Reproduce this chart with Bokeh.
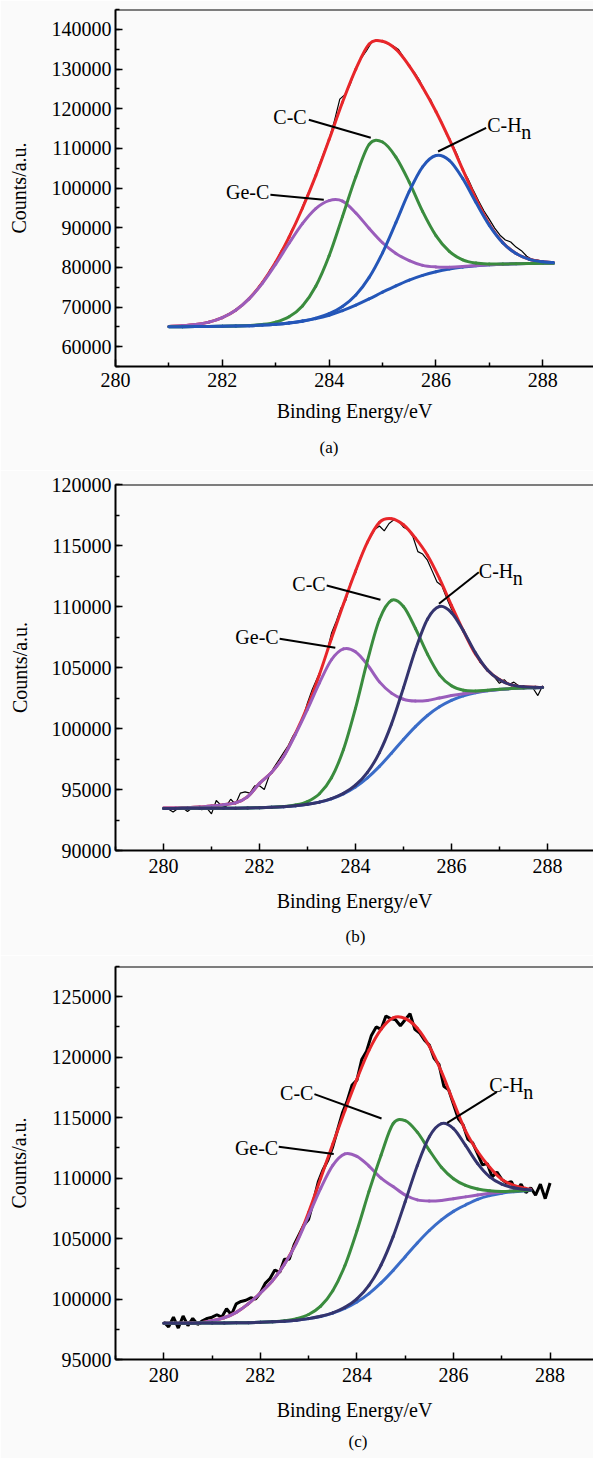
from bokeh.plotting import figure
from bokeh.layouts import column
from bokeh.models import FixedTicker, Span, Range1d, BasicTickFormatter, Title
from bokeh.core.properties import value
from bokeh.embed import file_html
from bokeh.resources import INLINE

FONT = "Liberation Serif"
RED = "#e8262a"; GREEN = "#3a8c3e"; BLUE_A = "#2456b8"; PURPLE = "#9a5dbb"
NAVY = "#34346e"; LBLUE = "#3a6cc8"; BG = "#fafafa"

# ---------------- panel (a) ----------------
a_E = [281.0, 281.25, 281.5, 281.75, 282.0, 282.25, 282.5, 282.75, 283.0, 283.25, 283.5, 283.75,
       284.0, 284.25, 284.5, 284.75, 285.0, 285.25, 285.5, 285.75, 286.0, 286.25, 286.5, 286.75,
       287.0, 287.25, 287.5, 287.75, 288.0, 288.2]
a_bg = [65024, 65037, 65055, 65084, 65127, 65192, 65290, 65436, 65650, 65966, 66426, 67061,
        67930, 69073, 70458, 72052, 73726, 75320, 76769, 77960, 78878, 79570, 80054, 80392,
        80633, 80778, 80891, 80955, 81003, 81036]
a_gec = [65111, 65257, 65566, 66184, 67312, 69192, 72047, 75973, 80802, 86063, 91020, 94817,
         96830, 96700, 93700, 89800, 86200, 83500, 81700, 80500, 80100, 80050, 80200, 80450,
         80650, 80800, 80900, 80958, 81004, 81036]
a_cc = [65024, 65037, 65055, 65084, 65128, 65202, 65333, 65601, 66195, 67526, 70271, 75233,
        82917, 92787, 102813, 111000, 111600, 107800, 101500, 94100, 88000, 84000, 81900, 81073,
        80844, 80835, 80904, 80958, 81004, 81036]
a_chn = [65024, 65037, 65055, 65084, 65127, 65192, 65290, 65436, 65652, 65974, 66460, 67184,
         68318, 70141, 73030, 77459, 83665, 91268, 99131, 105347, 108178, 106957, 102416, 96340,
         90572, 86185, 83463, 82023, 81391, 81192]
a_env = [65111, 65257, 65566, 66184, 67313, 69202, 72090, 76138, 81349, 87631, 94899, 103112,
         112205, 121611, 129979, 136300, 137000, 135000, 130800, 125400, 119300, 112300, 104700, 97241,
         90870, 86274, 83486, 82029, 81393, 81192]
a_rawE = [281.0 + 0.1 * i for i in range(71)]
a_raw = [65200, 65100, 65300, 65250, 65500, 65600, 65750, 66150, 66350, 66950,
         67250, 68150, 68750, 69900, 70850, 72300, 73600, 75500, 77000, 79500,
         81200, 84100, 86200, 89400, 91700, 95300, 98500, 101200, 105300, 108900,
         112400, 117000, 122400, 123600, 126300, 130300, 132700, 134600, 136800, 137300,
         136900, 136400, 135800, 134900, 132800, 130600, 129100, 127000, 124000, 122300,
         119100, 116900, 113400, 111200, 108300, 104700, 102300, 99400, 96700, 94200,
         92100, 89900, 88100, 86900, 86400, 85100, 84200, 82800, 82000, 81800, 81500]

# ---------------- panel (b) ----------------
b_E = [280.0, 280.25, 280.5, 280.75, 281.0, 281.25, 281.5, 281.75, 282.0, 282.25, 282.5, 282.75,
       283.0, 283.25, 283.5, 283.75, 284.0, 284.25, 284.5, 284.75, 285.0, 285.25, 285.5, 285.75,
       286.0, 286.25, 286.5, 286.75, 287.0, 287.25, 287.5, 287.75, 287.9]
b_bg = [93451, 93452, 93454, 93456, 93459, 93464, 93472, 93485, 93506, 93537, 93586, 93664,
        93783, 93964, 94237, 94636, 95201, 95952, 96893, 97973, 99102, 100156, 101065, 101778,
        102306, 102677, 102928, 103096, 103204, 103275, 103320, 103349, 103361]
b_gec = [93480, 93490, 93510, 93560, 93650, 93760, 93900, 94400, 95500, 96400, 97680, 99530,
         101570, 103742, 105636, 106526, 106300, 105222, 103822, 102900, 102400, 102250, 102300, 102500,
         102700, 102850, 102990, 103110, 103204, 103275, 103320, 103349, 103361]
b_cc = [93451, 93452, 93454, 93456, 93459, 93464, 93472, 93485, 93506, 93540, 93601, 93729,
        94013, 94650, 95960, 98272, 101646, 105561, 108934, 110500, 110000, 108200, 106100, 104400,
        103500, 103129, 103069, 103133, 103212, 103275, 103320, 103349, 103361]
b_chn = [93451, 93452, 93454, 93456, 93459, 93464, 93472, 93485, 93506, 93537, 93586, 93664,
         93783, 93966, 94247, 94679, 95352, 96402, 98023, 100358, 103330, 106459, 108963, 110000,
         109500, 108000, 106200, 104800, 104002, 103571, 103413, 103373, 103371]
b_env = [93480, 93490, 93510, 93560, 93650, 93760, 93900, 94400, 95500, 96400, 97700, 99600,
         101800, 104430, 107369, 110205, 112896, 115281, 116900, 117200, 116700, 115600, 114200, 112300,
         110100, 108000, 106100, 104800, 104010, 103571, 103413, 103373, 103371]
b_rawE = [280.0 + 0.1 * i for i in range(80)]
b_raw = [93500, 93400, 93150, 93450, 93500, 93200, 93500, 93450, 93350, 93500,
         93000, 94100, 93700, 93600, 94200, 93800, 94700, 94800, 94700, 95300,
         95300, 95000, 96100, 96800, 97400, 98000, 98600, 99400, 100000, 100800,
         102100, 103200, 104100, 105000, 106200, 107800, 108800, 109900, 110500, 112000,
         112700, 114000, 114900, 115600, 116300, 116600, 116200, 116800, 117100, 117000,
         116500, 116300, 115700, 114500, 114300, 113800, 112900, 112000, 111700, 110700,
         109800, 109100, 108400, 107600, 106800, 106200, 105400, 105100, 104600, 104200,
         103700, 104000, 103600, 103800, 103500, 103300, 103400, 103300, 102700, 103500]

# ---------------- panel (c) ----------------
c_E = [280.0, 280.25, 280.5, 280.75, 281.0, 281.25, 281.5, 281.75, 282.0, 282.25, 282.5, 282.75,
       283.0, 283.25, 283.5, 283.75, 284.0, 284.25, 284.5, 284.75, 285.0, 285.25, 285.5, 285.75,
       286.0, 286.25, 286.5, 286.75, 287.0, 287.25, 287.5, 287.6]
c_bg = [98003, 98004, 98006, 98009, 98014, 98021, 98032, 98049, 98074, 98112, 98167, 98253,
        98380, 98563, 98835, 99221, 99749, 100453, 101333, 102367, 103500, 104633, 105667, 106547,
        107251, 107779, 108250, 108550, 108750, 108880, 108960, 108990]
c_gec = [98003, 98006, 98014, 98032, 98200, 98450, 98900, 99600, 100500, 101500, 102880, 104650,
         106900, 109150, 111050, 112000, 111800, 111000, 110000, 109300, 108600, 108200, 108100, 108150,
         108300, 108450, 108600, 108750, 108850, 108950, 109000, 109020]
c_cc = [98003, 98004, 98006, 98009, 98014, 98021, 98032, 98049, 98076, 98122, 98203, 98371,
        98719, 99411, 100686, 102753, 105634, 108900, 111900, 114500, 114750, 113800, 112300, 110900,
        109950, 109400, 109100, 108950, 108900, 108930, 108970, 108995]
c_chn = [98003, 98004, 98006, 98009, 98014, 98021, 98032, 98049, 98074, 98112, 98167, 98253,
         98380, 98570, 98862, 99311, 100015, 101129, 102813, 105160, 108052, 111031, 113421, 114500,
         114100, 112700, 111200, 110100, 109500, 109200, 109050, 109020]
c_env = [98003, 98006, 98014, 98032, 98200, 98450, 98900, 99600, 100500, 101500, 102900, 104700,
         107171, 109982, 112826, 115579, 118182, 120561, 122300, 123250, 123200, 122400, 120900, 118800,
         116300, 113900, 112200, 110900, 109900, 109400, 109150, 109090]
c_rawE = [280.0 + 0.1 * i for i in range(81)]
c_raw = [98100, 97700, 98500, 97600, 98600, 97800, 98400, 97900, 98200, 98400,
         98500, 98700, 98500, 99200, 98700, 99600, 99800, 99900, 100100, 100000,
         100500, 101300, 101700, 102400, 102200, 103300, 103300, 104500, 105300, 106100,
         106600, 108100, 109700, 110700, 111500, 112600, 114000, 115400, 116400, 117700,
         118100, 119800, 120500, 121800, 122500, 122300, 123400, 123200, 123100, 122600,
         123100, 123600, 122300, 122000, 121400, 121000, 119900, 119400, 117600, 117300,
         116100, 114900, 114400, 113200, 112900, 112000, 111100, 111200, 110100, 110500,
         109900, 109600, 109700, 108900, 109500, 108800, 109200, 108600, 109500, 108300, 109600]

# axis ticks
a_yticks = [60000, 70000, 80000, 90000, 100000, 110000, 120000, 130000, 140000]
b_yticks = [90000, 95000, 100000, 105000, 110000, 115000, 120000]
c_yticks = [95000, 100000, 105000, 110000, 115000, 120000, 125000]
x_ticks = [280, 282, 284, 286, 288]
x_minor = [279, 281, 283, 285, 287, 289]

# peak labels: (label x, label y, line x0, y0, x1, y1)
a_lab = {"C-C": (283.58, 117830, 283.62, 117200, 284.78, 112650),
         "Ge-C": (282.88, 98940, 282.90, 98280, 283.90, 97020),
         "C-H": (286.96, 115900, 286.94, 115170, 286.04, 109200)}
b_lab = {"C-C": (283.38, 111860, 283.40, 111720, 284.52, 110550),
         "Ge-C": (282.40, 107480, 282.42, 107350, 283.58, 106610),
         "C-H": (286.57, 112950, 286.57, 112810, 285.74, 110220)}
c_lab = {"C-C": (283.10, 117000, 283.12, 116950, 284.51, 114930),
         "Ge-C": (282.37, 112460, 282.38, 112600, 283.52, 112000),
         "C-H": (286.74, 117680, 286.90, 117130, 285.87, 114570)}


def smooth(p, xs, ys, color, width):
    # draw a smooth (Catmull-Rom) curve through the read points
    n = len(xs)
    d = dict(x0=[], y0=[], x1=[], y1=[], cx0=[], cy0=[], cx1=[], cy1=[])
    for i in range(n - 1):
        xa, ya, xb, yb = xs[i], ys[i], xs[i + 1], ys[i + 1]
        xp, yp = (xs[i - 1], ys[i - 1]) if i > 0 else (xa, ya)
        xn, yn = (xs[i + 2], ys[i + 2]) if i + 2 < n else (xb, yb)
        d["x0"].append(xa); d["y0"].append(ya); d["x1"].append(xb); d["y1"].append(yb)
        d["cx0"].append(xa + (xb - xp) / 6); d["cy0"].append(ya + (yb - yp) / 6)
        d["cx1"].append(xb - (xn - xa) / 6); d["cy1"].append(yb - (yn - ya) / 6)
    p.bezier(line_color=color, line_width=width, line_cap="round", **d)


def make_panel(E, bg, gec, cc, chn, env, rawE, raw, xr, yr, yticks, yminor_step, frame_left,
               top, frame_h, bottom, labs, caption, cap_off, cap_stand, raw_w, chn_col, bg_col,
               ylab_stand, xlab_stand, xlab_off):
    p = figure(width=593, height=top + frame_h + bottom,
               x_range=Range1d(*xr), y_range=Range1d(*yr),
               output_backend="svg", toolbar_location=None,
               min_border_left=frame_left, min_border_right=0,
               min_border_top=top, min_border_bottom=bottom)
    p.outline_line_color = None
    p.grid.visible = False
    p.background_fill_color = BG
    p.border_fill_color = BG

    p.xaxis.ticker = FixedTicker(ticks=x_ticks, minor_ticks=x_minor)
    ymin = [v for v in range(int(yr[0]), int(yr[1]) + 1, yminor_step)]
    p.yaxis.ticker = FixedTicker(ticks=yticks, minor_ticks=ymin)
    p.yaxis.formatter = BasicTickFormatter(use_scientific=False)

    for ax in (p.xaxis[0], p.yaxis[0]):
        ax.axis_line_width = 2
        ax.axis_line_color = "black"
        ax.major_tick_line_width = 1.5
        ax.minor_tick_line_width = 1.5
        ax.major_tick_in = 7
        ax.major_tick_out = 0
        ax.minor_tick_in = 4
        ax.minor_tick_out = 0
        ax.major_label_text_font = FONT
        ax.major_label_text_font_size = "20px"
        ax.major_label_text_color = "black"
        ax.axis_label_text_font = FONT
        ax.axis_label_text_font_style = "normal"
        ax.axis_label_text_font_size = "20px"
        ax.axis_label_text_color = "black"
    p.xaxis.axis_label = "Binding Energy/eV"
    p.xaxis.major_label_standoff = xlab_off
    p.xaxis.axis_label_standoff = xlab_stand
    p.yaxis.axis_label = "Counts/a.u."
    p.yaxis.major_label_standoff = 4
    p.yaxis.axis_label_standoff = ylab_stand

    p.add_layout(Span(location=yr[1], dimension="width", line_color="black", line_width=2))

    p.line(rawE, raw, line_color="black", line_width=raw_w)
    smooth(p, E, env, RED, 3)
    smooth(p, E, bg, bg_col, 3)
    smooth(p, E, gec, PURPLE, 3)
    smooth(p, E, cc, GREEN, 3)
    smooth(p, E, chn, chn_col, 3)

    for name in ("C-C", "Ge-C"):
        lx, ly, x0, y0, x1, y1 = labs[name]
        p.text(x=[lx], y=[ly], text=[name], text_font=value(FONT), text_font_size="20px",
               text_align="right", text_baseline="middle", text_color="black")
        p.segment(x0=[x0], y0=[y0], x1=[x1], y1=[y1], line_color="black", line_width=2)
    lx, ly, x0, y0, x1, y1 = labs["C-H"]
    p.text(x=[lx], y=[ly], text=["C-H"], text_font=value(FONT), text_font_size="20px",
           text_align="left", text_baseline="middle", text_color="black")
    p.text(x=[lx], y=[ly], text=["n"], text_font=value(FONT), text_font_size="20px",
           text_align="left", text_baseline="middle", text_color="black", x_offset=34, y_offset=7)
    p.segment(x0=[x0], y0=[y0], x1=[x1], y1=[y1], line_color="black", line_width=2)

    p.add_layout(Title(text=caption, align="left", offset=cap_off, standoff=cap_stand,
                       text_font=FONT, text_font_size="17px", text_font_style="normal",
                       text_color="black"), "below")
    return p


pa = make_panel(a_E, a_bg, a_gec, a_cc, a_chn, a_env, a_rawE, a_raw, (280, 288.95), (55000, 145000),
                a_yticks, 5000, 112, 9, 357, 104, a_lab, "(a)", 204, 22, 1.2, BLUE_A, BLUE_A, 19, 10, 6)
pb = make_panel(b_E, b_bg, b_gec, b_cc, b_chn, b_env, b_rawE, b_raw, (279, 288.96), (90000, 120000),
                b_yticks, 2500, 115, 14, 366, 105, b_lab, "(b)", 230, 20, 1.2, NAVY, LBLUE, 18, 14, 8)
pc = make_panel(c_E, c_bg, c_gec, c_cc, c_chn, c_env, c_rawE, c_raw, (279, 288.9), (95000, 127500),
                c_yticks, 2500, 114, 11, 393, 99, c_lab, "(c)", 233, 12, 3, NAVY, LBLUE, 19, 14, 8)

layout = column(pa, pb, pc, spacing=0)
open("out.html", "w").write(file_html(layout, INLINE))
